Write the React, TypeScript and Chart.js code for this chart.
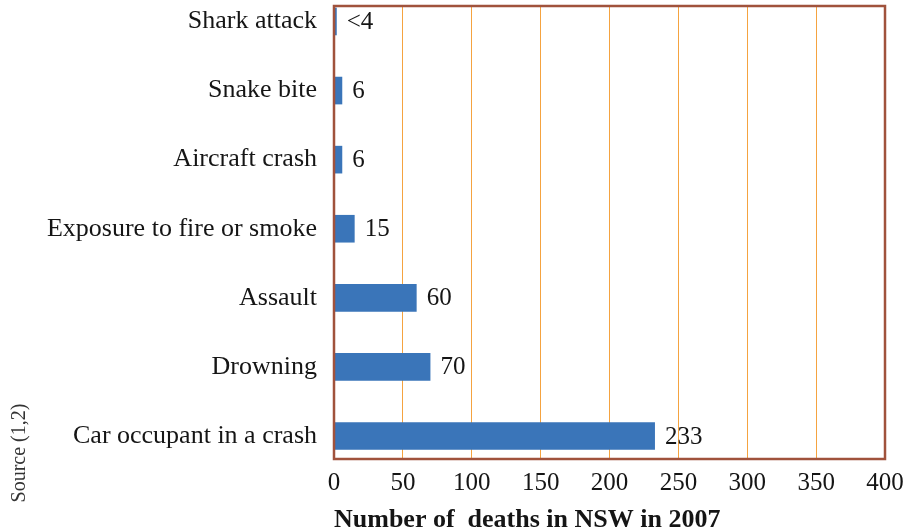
import { useEffect, useRef } from 'react';
import { Chart, registerables } from 'chart.js';

Chart.register(...registerables);

const categories = [
  'Shark attack',
  'Snake bite',
  'Aircraft crash',
  'Exposure to fire or smoke',
  'Assault',
  'Drowning',
  'Car occupant in a crash',
];
const deaths = [2, 6, 6, 15, 60, 70, 233];
const valueLabels = ['<4', '6', '6', '15', '60', '70', '233'];
const xMin = 0;
const xMax = 400;
const xStep = 50;
const axisTitle = 'Number of  deaths in NSW in 2007';
const sourceNote = 'Source (1,2)';

const FONT = '"Liberation Serif", "Times New Roman", serif';
const TEXT = '#151515';
const BAR = '#3A75B9';
const GRID = '#F5A340';
const FRAME = '#A0523C';

const framePlugin = {
  id: 'frameAndLabels',
  afterDatasetsDraw(chart: any) {
    const { ctx } = chart;
    const meta = chart.getDatasetMeta(0);
    ctx.save();
    ctx.font = `25px ${FONT}`;
    ctx.fillStyle = TEXT;
    ctx.textAlign = 'left';
    ctx.textBaseline = 'middle';
    meta.data.forEach((el: any, i: number) => {
      ctx.fillText(valueLabels[i], el.x + 10, el.y + 1);
    });
    ctx.restore();
  },
  afterDraw(chart: any) {
    const { ctx, chartArea } = chart;
    ctx.save();
    ctx.strokeStyle = FRAME;
    ctx.lineWidth = 2.5;
    ctx.strokeRect(
      chartArea.left,
      chartArea.top,
      chartArea.right - chartArea.left,
      chartArea.bottom - chartArea.top
    );
    ctx.translate(20, 453);
    ctx.rotate(-Math.PI / 2);
    ctx.font = `20px ${FONT}`;
    ctx.fillStyle = '#333';
    ctx.textAlign = 'center';
    ctx.textBaseline = 'middle';
    ctx.fillText(sourceNote, 0, 0);
    ctx.restore();
  },
};

export default function App() {
  const ref = useRef<HTMLCanvasElement>(null);

  useEffect(() => {
    if (!ref.current) return;
    const chart = new Chart(ref.current, {
      type: 'bar',
      data: {
        datasets: [
          {
            data: deaths.map((v, i) => ({ x: v, y: i })),
            backgroundColor: BAR,
            borderWidth: 0,
            categoryPercentage: 1,
            barPercentage: 0.4,
          },
        ],
      },
      options: {
        indexAxis: 'y',
        animation: false,
        responsive: false,
        maintainAspectRatio: false,
        layout: { padding: { left: 0, right: 23, top: 6, bottom: 0 } },
        plugins: {
          legend: { display: false },
          tooltip: { enabled: false },
          title: { display: false },
        },
        scales: {
          x: {
            type: 'linear',
            min: xMin,
            max: xMax,
            offset: false,
            grid: { color: GRID, lineWidth: 1, drawTicks: false, offset: false },
            border: { display: false },
            ticks: {
              stepSize: xStep,
              padding: 9,
              color: TEXT,
              font: { family: FONT, size: 25 },
              maxRotation: 0,
            },
            title: {
              display: true,
              text: axisTitle,
              align: 'start',
              color: TEXT,
              font: { family: FONT, size: 26, weight: 'bold', lineHeight: 1 },
              padding: { top: 0, bottom: -2 },
            },
            afterFit(scale: any) {
              scale.height = 72;
              scale.paddingLeft = 0;
              scale.paddingRight = 0;
            },
          },
          y: {
            type: 'linear',
            reverse: true,
            offset: false,
            min: -0.224,
            max: 6.333,
            grid: { display: false, drawTicks: false, offset: false },
            border: { display: false },
            ticks: {
              stepSize: 1,
              includeBounds: false,
              autoSkip: false,
              padding: 17,
              color: TEXT,
              font: { family: FONT, size: 26 },
              callback: (v: any) =>
                Number.isInteger(v) && categories[v] !== undefined ? categories[v] : '',
            },
            afterFit(scale: any) {
              scale.width = 334;
              scale.paddingTop = 0;
              scale.paddingBottom = 0;
            },
          },
        },
      } as any,
      plugins: [framePlugin],
    });
    return () => chart.destroy();
  }, []);

  return (
    <div style={{ position: 'absolute', left: 0, top: 0, width: 908, height: 531, background: '#fff' }}>
      <canvas ref={ref} width={908} height={531} style={{ display: 'block' }} />
    </div>
  );
}
